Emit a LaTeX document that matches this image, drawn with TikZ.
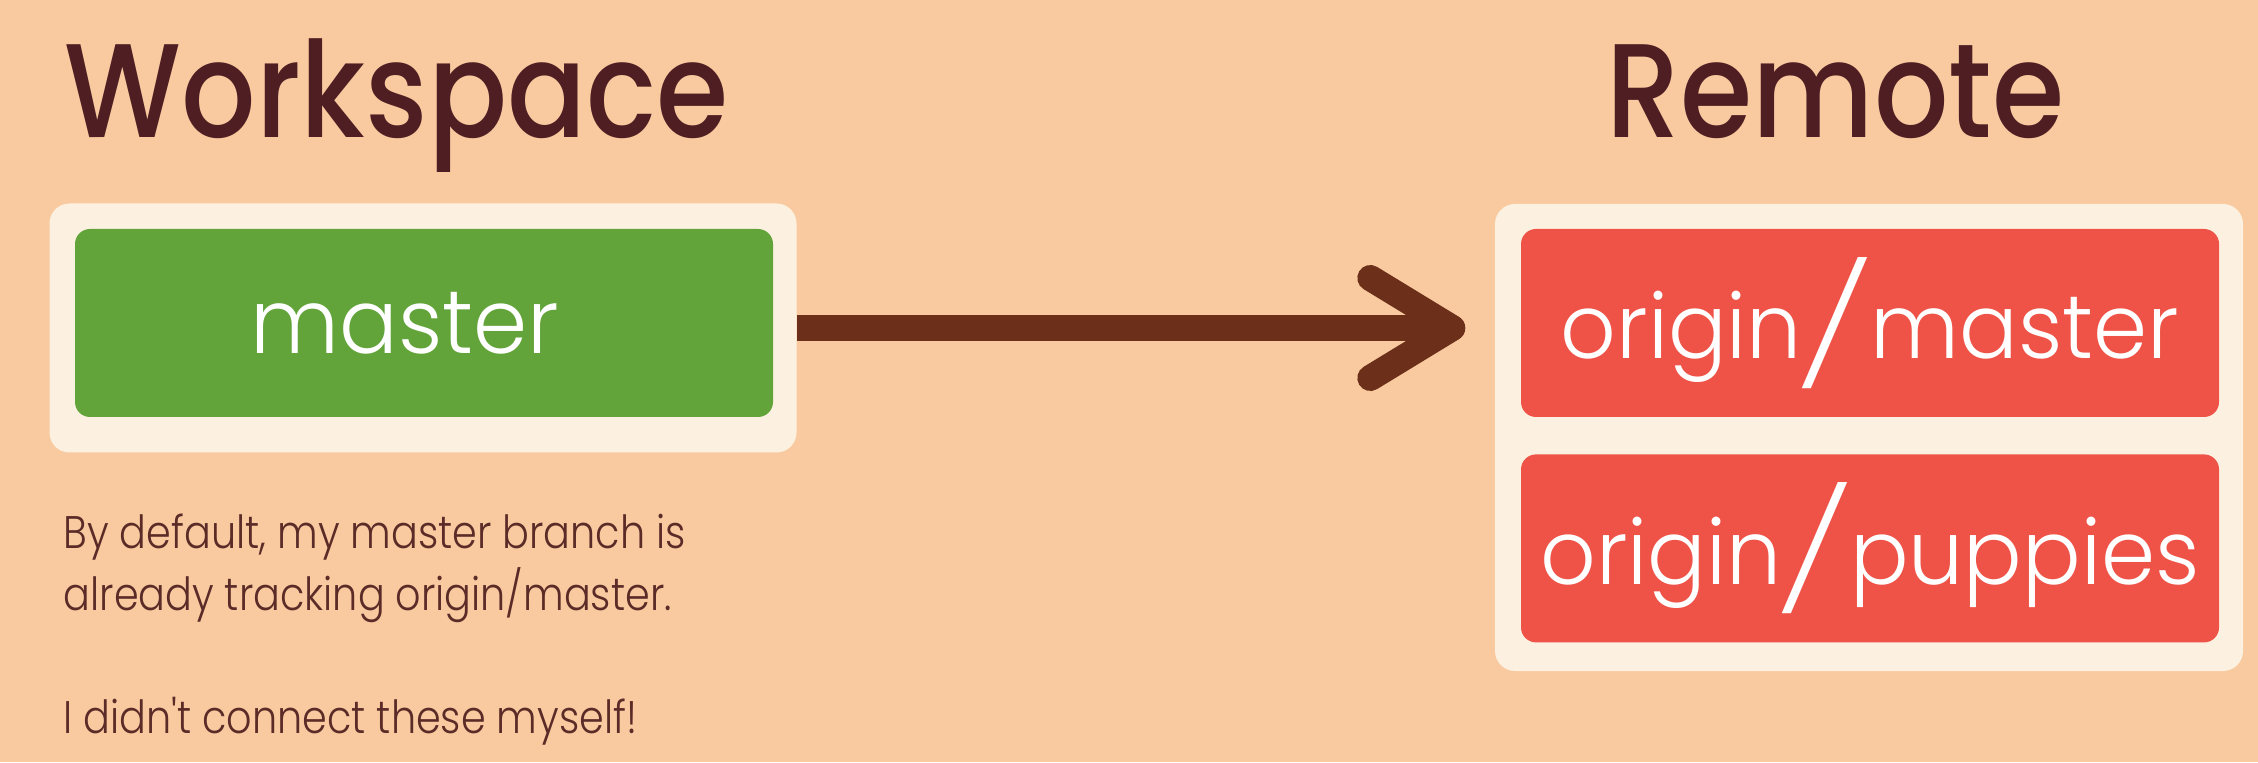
\documentclass[tikz,border=0pt]{standalone}
\usepackage{fontspec}
\setmainfont{Poppins}
\newfontfamily\headfont{Poppins Medium}[FakeStretch=0.875]
\newfontfamily\branchfont{Poppins Light}[FakeStretch=0.97]
\newfontfamily\slashfont{Poppins ExtraLight}[FakeStretch=1.7]
\newfontfamily\notefont{Poppins Light}[FakeStretch=0.87]
\usepackage{xcolor}
\usetikzlibrary{
    arrows.meta,
    positioning
}
\definecolor{peachbg}{HTML}{F9CA9F}
\definecolor{creampanel}{HTML}{FCF1E0}
\definecolor{branchgreen}{HTML}{62A33A}
\definecolor{remotered}{HTML}{EF5246}
\definecolor{titlebrown}{HTML}{4F1E23}
\definecolor{arrowbrown}{HTML}{6B2F1A}
\definecolor{notebrown}{HTML}{5B2B28}
% tall slash between remote and branch name
\newcommand{\brslash}{\kern-2pt\raisebox{-3pt}{\slashfont\fontsize{34}{34}\selectfont/}\kern-1.5pt}

\begin{document}
\begin{tikzpicture}[
        heading/.style={text=titlebrown, inner sep=0pt, font=\headfont\fontsize{38}{44}\selectfont},
        panel/.style={fill=creampanel, rounded corners=0.2cm, inner sep=0pt},
        branch/.style={rounded corners=0.15cm, minimum width=6.98cm, minimum height=1.88cm, inner sep=0pt, text=white, font=\branchfont\fontsize{25.5}{30}\selectfont},
        link/.style={draw=arrowbrown, line width=0.26cm, -{Straight Barb[length=0.82cm, width=1.0cm, round]}}
    ]
        % Background
        \fill[peachbg] (0, 0) rectangle (22.58, 7.62);
        \useasboundingbox (0, 0) rectangle (22.58, 7.62);

        % Titles
        \node[heading, anchor=base west] (wstitle) at (0.64, 6.24) {Workspace};
        \node[heading, anchor=base west] (rmtitle) at (16.06, 6.24) {Remote};

        % Workspace side
        \node[panel, minimum width=7.47cm, minimum height=2.49cm] (wspanel) at (4.23, 4.34) {};
        \node[branch, fill=branchgreen] (master) at (4.24, 4.39) {master\kern0.38cm};

        % Remote side
        \node[panel, minimum width=7.48cm, minimum height=4.67cm] (rmpanel) at (18.69, 3.245) {};
        \node[branch, fill=remotered] (omaster) at (18.70, 4.39) {origin\brslash master};
        \node[branch, fill=remotered, below=0.36cm of omaster] (opuppies) {origin\brslash puppies};

        % Tracking arrow
        \draw[link, shorten >=0.29cm] (wspanel.east) -- (rmpanel.west |- wspanel.east);

        % Note
        \node[anchor=north west, inner sep=0pt, align=left, text=notebrown,
            font=\notefont\fontsize{13}{17.6}\selectfont] (note) at (0.63, 2.49) {
            By default, my master branch is\\
            already tracking origin/master.\\[17.6pt]
            I didn't connect these myself!
        };
    \end{tikzpicture}
\end{document}
